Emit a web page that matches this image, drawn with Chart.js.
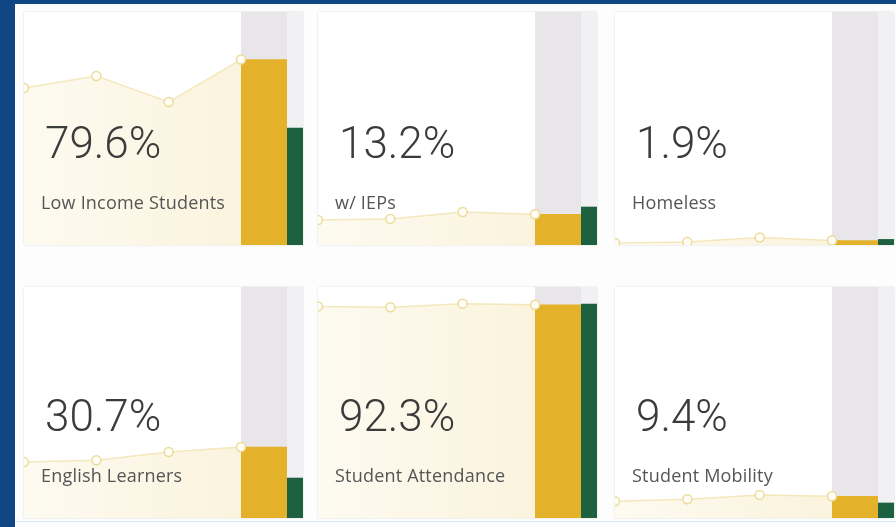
<!DOCTYPE html>
<html lang="en">
<head>
    <meta charset="UTF-8">
    <meta name="viewport" content="width=device-width, initial-scale=1.0">
    <title>Student Population Overview</title>
    <style>
        html, body { margin: 0; padding: 0; }
        body { width: 896px; height: 527px; background: #114684; position: relative; overflow: hidden; font-family: Roboto, "Open Sans", sans-serif; }
        #panel { position: absolute; left: 15px; top: 4px; right: 0; bottom: 0; background: #fdfdfd; }
        #panel-line { position: absolute; left: 15px; right: 0; top: 521px; height: 1px; background: #dbe8f4; }
        .card { position: absolute; width: 279px; background: #fff; box-shadow: 0 0 2px rgba(0,0,0,0.14); overflow: hidden; }
        .c1 { left: 24px; } .c2 { left: 318px; } .c3 { left: 615px; }
        .r1 { top: 12px; height: 233px; } .r2 { top: 287px; height: 231px; }
        .trend { position: absolute; left: 0; top: 0; width: 279px; height: 100%; z-index: 2; }
        .school-col { position: absolute; left: 217px; top: 0; width: 46px; height: 100%; background: #e8e6e9; z-index: 1; }
        .state-col { position: absolute; left: 263px; top: 0; width: 16px; height: 100%; background: #f1f0f2; z-index: 1; }
        .value { position: absolute; left: 21px; bottom: 80px; font-size: 44px; font-weight: 300; line-height: 1; color: #3b3b3b; z-index: 3; white-space: nowrap; }
        .label { position: absolute; left: 17px; bottom: 34px; font-family: "Open Sans", Roboto, sans-serif; font-size: 18px; line-height: 1; color: #555; letter-spacing: 0.2px; z-index: 3; white-space: nowrap; }
    </style>
</head>
<body>
    <div id="panel"></div>
    <div id="panel-line"></div>

    <script src="https://cdn.jsdelivr.net/npm/chart.js"></script>
    <script>
        const cardLabels = ['Low Income Students', 'w/ IEPs', 'Homeless', 'English Learners', 'Student Attendance', 'Student Mobility'];
        const schoolValues = [79.6, 13.2, 1.9, 30.7, 92.3, 9.4];
        const stateValues = [50.2, 16.3, 2.4, 17.3, 92.6, 6.5];
        const trendPeriods = ['Year 1', 'Year 2', 'Year 3', 'Year 4'];
        const trendLowIncome = [67.4, 72.5, 61.4, 79.6];
        const trendIEPs = [10.7, 11.2, 14.2, 13.2];
        const trendHomeless = [0.9, 1.3, 3.2, 1.9];
        const trendEnglish = [24.2, 25.0, 28.6, 30.7];
        const trendAttendance = [91.6, 91.2, 92.8, 92.3];
        const trendMobility = [7.2, 8.1, 10.0, 9.4];

        const trends = [trendLowIncome, trendIEPs, trendHomeless, trendEnglish, trendAttendance, trendMobility];
        const gold = '#e4b12b';
        const green = '#1e6140';

        function barChart(canvas, value, color) {
            return new Chart(canvas, {
                type: 'bar',
                data: { labels: [''], datasets: [{ data: [value], backgroundColor: color, borderWidth: 0, barPercentage: 1, categoryPercentage: 1 }] },
                options: {
                    responsive: true, maintainAspectRatio: false, animation: false,
                    layout: { padding: 0, autoPadding: false },
                    plugins: { legend: { display: false }, tooltip: { enabled: false } },
                    scales: { x: { display: false }, y: { display: false, min: 0, max: 100 } }
                }
            });
        }

        function trendFill(context) {
            const chart = context.chart;
            const area = chart.chartArea;
            if (!area) return 'rgba(246,232,188,0.35)';
            const g = chart.ctx.createLinearGradient(area.left, 0, area.right, 0);
            g.addColorStop(0, 'rgba(246,232,188,0.22)');
            g.addColorStop(1, 'rgba(246,232,188,0.5)');
            return g;
        }

        cardLabels.forEach((label, i) => {
            const card = document.createElement('div');
            card.className = 'card c' + (i % 3 + 1) + ' r' + (Math.floor(i / 3) + 1);
            card.innerHTML =
                '<div class="school-col"><canvas></canvas></div>' +
                '<div class="state-col"><canvas></canvas></div>' +
                '<div class="trend"><canvas></canvas></div>' +
                '<div class="value">' + schoolValues[i].toFixed(1) + '%</div>' +
                '<div class="label">' + label + '</div>';
            document.body.appendChild(card);

            const canvases = card.querySelectorAll('canvas');
            barChart(canvases[0], schoolValues[i], gold);
            barChart(canvases[1], stateValues[i], green);

            new Chart(canvases[2], {
                type: 'line',
                data: {
                    labels: trendPeriods,
                    datasets: [{
                        data: trends[i],
                        borderColor: 'rgba(242,228,180,0.85)',
                        borderWidth: 1.5,
                        backgroundColor: trendFill,
                        fill: 'start',
                        tension: 0,
                        clip: false,
                        pointRadius: 4.5,
                        pointBorderWidth: 1.5,
                        pointBorderColor: '#ecdb9a',
                        pointBackgroundColor: '#fffdf6'
                    }]
                },
                options: {
                    responsive: true, maintainAspectRatio: false, animation: false,
                    layout: { padding: { left: 0, right: 62, top: 0, bottom: 0 }, autoPadding: false },
                    plugins: { legend: { display: false }, tooltip: { enabled: false } },
                    scales: {
                        x: { display: false, offset: false },
                        y: { display: false, min: 0, max: 100 }
                    }
                }
            });
        });
    </script>
</body>
</html>
